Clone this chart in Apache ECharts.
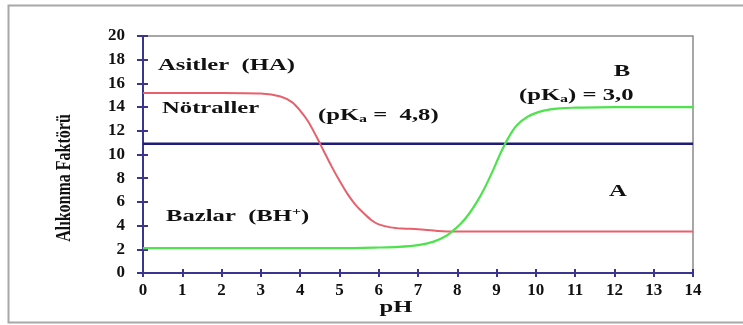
<!DOCTYPE html>
<html><head><meta charset="utf-8">
<script src="https://cdn.jsdelivr.net/npm/echarts@6/dist/echarts.min.js"></script>
<style>html,body{margin:0;padding:0;background:#fff}#c{width:743px;height:325px}</style>
</head><body><div id="c"></div>
<script>
const xTicks = [0,1,2,3,4,5,6,7,8,9,10,11,12,13,14];
const yTicks = [0,2,4,6,8,10,12,14,16,18,20];
const redA = [[0,15.2],[1,15.2],[2,15.2],[3,15.15],[3.5,14.9],[3.8,14.4],[4.0,13.7],[4.2,12.8],[4.4,11.6],[4.6,10.3],[4.8,9.0],[5.0,7.8],[5.2,6.7],[5.4,5.8],[5.6,5.1],[5.8,4.5],[6.0,4.1],[6.3,3.85],[6.6,3.75],[7.0,3.7],[7.5,3.55],[8,3.5],[10,3.5],[12,3.5],[14,3.5]];
const greenB = [[0,2.1],[1,2.1],[2,2.1],[3,2.1],[4,2.1],[5,2.1],[6,2.15],[6.5,2.2],[7,2.35],[7.4,2.65],[7.7,3.1],[7.9,3.6],[8.1,4.2],[8.3,5.0],[8.5,6.0],[8.7,7.2],[8.9,8.6],[9.1,10.1],[9.3,11.4],[9.5,12.4],[9.8,13.2],[10.2,13.7],[10.6,13.9],[11,13.95],[12,14.0],[14,14.0]];
const neutral = [[0,10.9],[14,10.9]];

const F = '"Liberation Serif", "Times New Roman", serif';
const axisColor = '#3b3590';
const SX = 1.45;
const chart = echarts.init(document.getElementById('c'));
const tickRich = {b: {fontFamily: F, fontWeight: 'bold', fontSize: 17, color: '#111'}};
const T = (x, y, text, align, extra) => Object.assign({type: 'text', x: x, y: y, scaleX: SX,
  style: {text: text, font: 'bold 17px ' + F, fill: '#111', align: align || 'left', verticalAlign: 'middle'}}, extra || {});
const richStyle = {n: {font: 'bold 17px ' + F, fill: '#111'}, s: {font: 'bold 11px ' + F, fill: '#111', padding: [7, 0, 0, 0]}, p: {font: 'bold 11px ' + F, fill: '#111', padding: [0, 0, 9, 0]}};
chart.setOption({
  animation: false,
  grid: {left: 143, right: 50, top: 36, bottom: 52, show: true, borderColor: '#8a8a8a', borderWidth: 1.5},
  xAxis: [{
    type: 'value', min: 0, max: 14, interval: 1,
    axisLine: {show: true, lineStyle: {color: axisColor, width: 2}},
    axisTick: {show: true, length: 4, lineStyle: {color: axisColor, width: 2}},
    axisLabel: {margin: 9, fontWeight: 'bold', fontFamily: F, fontSize: 17, color: '#111', rich: tickRich,
      formatter: v => xTicks.includes(v) ? '{b|' + v + '}' : ''},
    splitLine: {show: false}
  },{
    type: 'value', min: 0, max: 14, interval: 1, position: 'bottom',
    axisLine: {show: false}, axisLabel: {show: false}, splitLine: {show: false},
    axisTick: {show: true, inside: true, length: 4, lineStyle: {color: axisColor, width: 2}}
  }],
  yAxis: [{
    type: 'value', min: 0, max: 20, interval: 2,
    axisLine: {show: true, lineStyle: {color: axisColor, width: 2}},
    axisTick: {show: true, length: 6, lineStyle: {color: axisColor, width: 2}},
    axisLabel: {margin: 18, fontWeight: 'bold', fontFamily: F, fontSize: 17, color: '#111', rich: tickRich,
      formatter: v => yTicks.includes(v) ? '{b|' + v + '}' : ''},
    splitLine: {show: false}
  },{
    type: 'value', min: 0, max: 20, interval: 2, position: 'left',
    axisLine: {show: false}, axisLabel: {show: false}, splitLine: {show: false},
    axisTick: {show: true, inside: true, length: 5, lineStyle: {color: axisColor, width: 2}}
  }],
  series: [
    {type: 'line', data: redA, smooth: 0.3, symbol: 'none', lineStyle: {color: '#e8606c', width: 2}, z: 3},
    {type: 'line', data: greenB, smooth: 0.3, symbol: 'none', lineStyle: {color: '#4ee34e', width: 2.2}, z: 3},
    {type: 'line', data: neutral, symbol: 'none', lineStyle: {color: '#1f1b78', width: 2.5}, z: 2}
  ],
  graphic: [
    {type: 'rect', shape: {x: 8.5, y: 5.5, width: 760, height: 317}, style: {fill: 'none', stroke: '#a8a8a8', lineWidth: 2}, silent: true},
    {type: 'text', x: 64, y: 178, rotation: Math.PI / 2, scaleY: 1.35,
      style: {text: 'Alıkonma Faktörü', font: 'bold 16px ' + F, fill: '#111', align: 'center', verticalAlign: 'middle'}},
    T(396, 308, 'pH', 'center'),
    T(158, 66, 'Asitler  (HA)'),
    T(162, 109, 'Nötraller'),
    {type: 'text', x: 318, y: 116, scaleX: SX, style: {text: '{n|(pK}{s|a}{n| =  4,8)}', verticalAlign: 'middle', rich: richStyle}},
    T(622, 72, 'B', 'center'),
    {type: 'text', x: 519, y: 96, scaleX: SX, style: {text: '{n|(pK}{s|a}{n|) = 3,0}', verticalAlign: 'middle', rich: richStyle}},
    T(618, 192, 'A', 'center'),
    {type: 'text', x: 166, y: 217, scaleX: SX, style: {text: '{n|Bazlar  (BH}{p|+}{n|)}', verticalAlign: 'middle', rich: richStyle}}
  ]
});
</script></body></html>
